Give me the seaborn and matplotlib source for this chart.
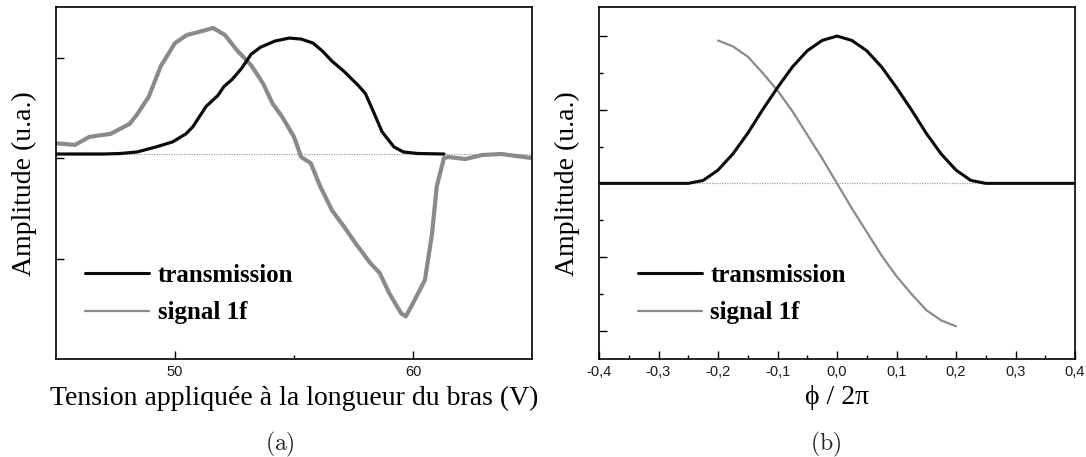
import numpy as np
import pandas as pd
import matplotlib
matplotlib.use("Agg")
import matplotlib.pyplot as plt
import seaborn as sns

# ---------------- data (a) ----------------
a_trans_v = [45.0, 46.0, 47.0, 47.7, 48.4, 49.2, 49.9, 50.46, 50.75, 51.3, 51.8, 52.06,
             52.4, 52.8, 53.2, 53.6, 54.2, 54.8, 55.3, 55.8, 56.2, 56.6, 57.1, 57.7,
             58.0, 58.3, 58.7, 59.2, 59.6, 60.2, 61.3]
a_trans_y = [0.0, 0.0, 0.0, 0.005, 0.02, 0.07, 0.12, 0.20, 0.27, 0.47, 0.58, 0.67,
             0.74, 0.85, 0.99, 1.06, 1.12, 1.15, 1.14, 1.10, 1.02, 0.92, 0.82, 0.68,
             0.60, 0.44, 0.22, 0.07, 0.02, 0.005, 0.0]

a_sig_v = [45.0, 45.8, 46.4, 47.3, 48.1, 48.4, 48.9, 49.4, 50.0, 50.5, 51.0, 51.6,
           52.1, 52.6, 53.2, 53.7, 54.1, 54.5, 55.0, 55.3, 55.7, 56.1, 56.6, 57.1,
           57.6, 58.2, 58.6, 59.0, 59.5, 59.7, 60.0, 60.5, 60.8, 61.0, 61.3, 61.5,
           62.2, 62.9, 63.7, 65.0]
a_sig_y = [0.106, 0.09, 0.17, 0.20, 0.30, 0.39, 0.57, 0.87, 1.10, 1.18, 1.21, 1.25,
           1.18, 1.03, 0.88, 0.70, 0.50, 0.37, 0.17, -0.03, -0.09, -0.32, -0.56, -0.72,
           -0.89, -1.08, -1.18, -1.38, -1.58, -1.61, -1.48, -1.25, -0.79, -0.32, -0.04, -0.03,
           -0.05, -0.01, 0.0, -0.04]

a_xticks = [50, 60]
a_xticklabels = ["50", "60"]

# ---------------- data (b) ----------------
b_trans_x = [-0.4, -0.375, -0.35, -0.325, -0.3, -0.275, -0.25, -0.225, -0.2, -0.175,
             -0.15, -0.125, -0.1, -0.075, -0.05, -0.025, 0.0, 0.025, 0.05, 0.075, 0.1,
             0.125, 0.15, 0.175, 0.2, 0.225, 0.25, 0.275, 0.3, 0.325, 0.35, 0.375, 0.4]
b_trans_y = [0.0, 0.0, 0.0, 0.0, 0.0, 0.0, 0.0, 0.02, 0.09, 0.20,
             0.34, 0.50, 0.65, 0.79, 0.90, 0.97, 1.0, 0.97, 0.90, 0.79, 0.65,
             0.50, 0.34, 0.20, 0.09, 0.02, 0.0, 0.0, 0.0, 0.0, 0.0, 0.0, 0.0]

b_sig_x = [-0.2, -0.175, -0.15, -0.125, -0.1, -0.075, -0.05, -0.025, 0.0,
           0.025, 0.05, 0.075, 0.1, 0.125, 0.15, 0.175, 0.2]
b_sig_y = [0.97, 0.93, 0.86, 0.75, 0.63, 0.49, 0.33, 0.17, 0.0,
           -0.17, -0.33, -0.49, -0.63, -0.75, -0.86, -0.93, -0.97]

b_xticks = [-0.4, -0.3, -0.2, -0.1, 0.0, 0.1, 0.2, 0.3, 0.4]
b_xticklabels = ["-0,4", "-0,3", "-0,2", "-0,1", "0,0", "0,1", "0,2", "0,3", "0,4"]

series_names = ["transmission", "signal 1f"]

# ---------------- style ----------------
sns.set_theme(style="white")
plt.rcParams["font.family"] = ["Liberation Serif", "DejaVu Serif"]
plt.rcParams["mathtext.fontset"] = "cm"

W, H = 1086, 457
fig = plt.figure(figsize=(W / 100, H / 100), dpi=100)
fig.patch.set_facecolor("white")

def axes_rect(left, right, top, bottom):
    return [left / W, 1 - bottom / H, (right - left) / W, (bottom - top) / H]

axa = fig.add_axes(axes_rect(56, 532, 7.3, 359))
axb = fig.add_axes(axes_rect(599, 1075, 7.3, 359))

BLACK = "#0a0a0a"
GRAY = "#8a8a8a"

# panel (a)
axa.axhline(0, color="#a0a0a0", lw=0.9, ls=(0, (1, 1)), zorder=1)
sns.lineplot(x=a_trans_v, y=a_trans_y, ax=axa, color=BLACK, lw=2.3,
             label=series_names[0], sort=False, zorder=3)
sns.lineplot(x=a_sig_v, y=a_sig_y, ax=axa, color=GRAY, lw=3.0,
             label=series_names[1], sort=False, zorder=2)
axa.set_xlim(45, 65)
axa.set_ylim(-2.033, 1.455)

# panel (b)
axb.axhline(0, color="#a0a0a0", lw=0.9, ls=(0, (1, 1)), zorder=1)
sns.lineplot(x=b_trans_x, y=b_trans_y, ax=axb, color=BLACK, lw=2.2,
             label=series_names[0], sort=False, zorder=3)
sns.lineplot(x=b_sig_x, y=b_sig_y, ax=axb, color=GRAY, lw=1.6,
             label=series_names[1], sort=False, zorder=2)
axb.set_xlim(-0.4, 0.4)
axb.set_ylim(-1.192, 1.195)

# ticks
axa.set_xticks(a_xticks)
axa.set_xticklabels(a_xticklabels)
axa.set_xticks([55], minor=True)
axa.set_yticks([0.955, -0.043, -1.045])
axa.set_yticklabels([])

axb.set_xticks(b_xticks)
axb.set_xticklabels(b_xticklabels)
axb.set_xticks([-0.35, -0.25, -0.15, -0.05, 0.05, 0.15, 0.25, 0.35], minor=True)
axb.set_yticks([-1.0, -0.5, 0.0, 0.5, 1.0])
axb.set_yticks([-0.75, -0.25, 0.25, 0.75], minor=True)
axb.set_yticklabels([])

for ax in (axa, axb):
    for s in ax.spines.values():
        s.set_color("black")
        s.set_linewidth(1.2)
    ax.tick_params(which="major", direction="in", length=5.5, width=1.0,
                   color="black", pad=4, labelsize=10.5, labelcolor="#1a1a1a",
                   bottom=True, left=True, top=False, right=False)
    ax.tick_params(which="minor", direction="in", length=3, width=1.0,
                   color="black", bottom=True, left=True, top=False, right=False)
    for t in ax.get_xticklabels():
        t.set_fontfamily(["Liberation Sans", "DejaVu Sans"])
    ax.set_ylabel("Amplitude (u.a.)", fontsize=20, family="Liberation Serif",
                  color="black")
    ax.yaxis.label.set_verticalalignment("center")
    ax.yaxis.set_label_coords(-32 / 476, 0.5)
    ax.grid(False)

axa.set_xlabel("Tension appliquée à la longueur du bras (V)", fontsize=20,
               family="Liberation Serif", color="black")
axb.set_xlabel("ϕ / 2π", fontsize=20, family=["Liberation Serif", "DejaVu Serif"],
               color="black")
for ax in (axa, axb):
    ax.xaxis.label.set_verticalalignment("center")
    ax.xaxis.set_label_coords(0.5, (359 - 398) / 351.7)

# legends
for ax, x0, lw_black, lw_gray in ((axa, (85 - 56) / 476, 2.2, 1.6),
                                  (axb, (638 - 599) / 476, 2.2, 1.6)):
    leg = ax.legend(loc="upper left", bbox_to_anchor=(x0, (359 - 264) / 351.7),
                    frameon=False, borderaxespad=0, borderpad=0,
                    handlelength=2.55, handletextpad=0.35, labelspacing=0.58,
                    prop={"family": "Liberation Serif", "weight": "bold", "size": 18})
    for txt in leg.get_texts():
        txt.set_color("black")
    hs = leg.get_lines()
    hs[0].set_linewidth(lw_black)
    hs[1].set_linewidth(lw_gray)

# captions
fig.text(280 / W, 1 - 444 / H, r"$\mathrm{(a)}$", ha="center", va="center", fontsize=17)
fig.text(826 / W, 1 - 444 / H, r"$\mathrm{(b)}$", ha="center", va="center", fontsize=17)

fig.savefig("out.png", dpi=100, facecolor="white")
